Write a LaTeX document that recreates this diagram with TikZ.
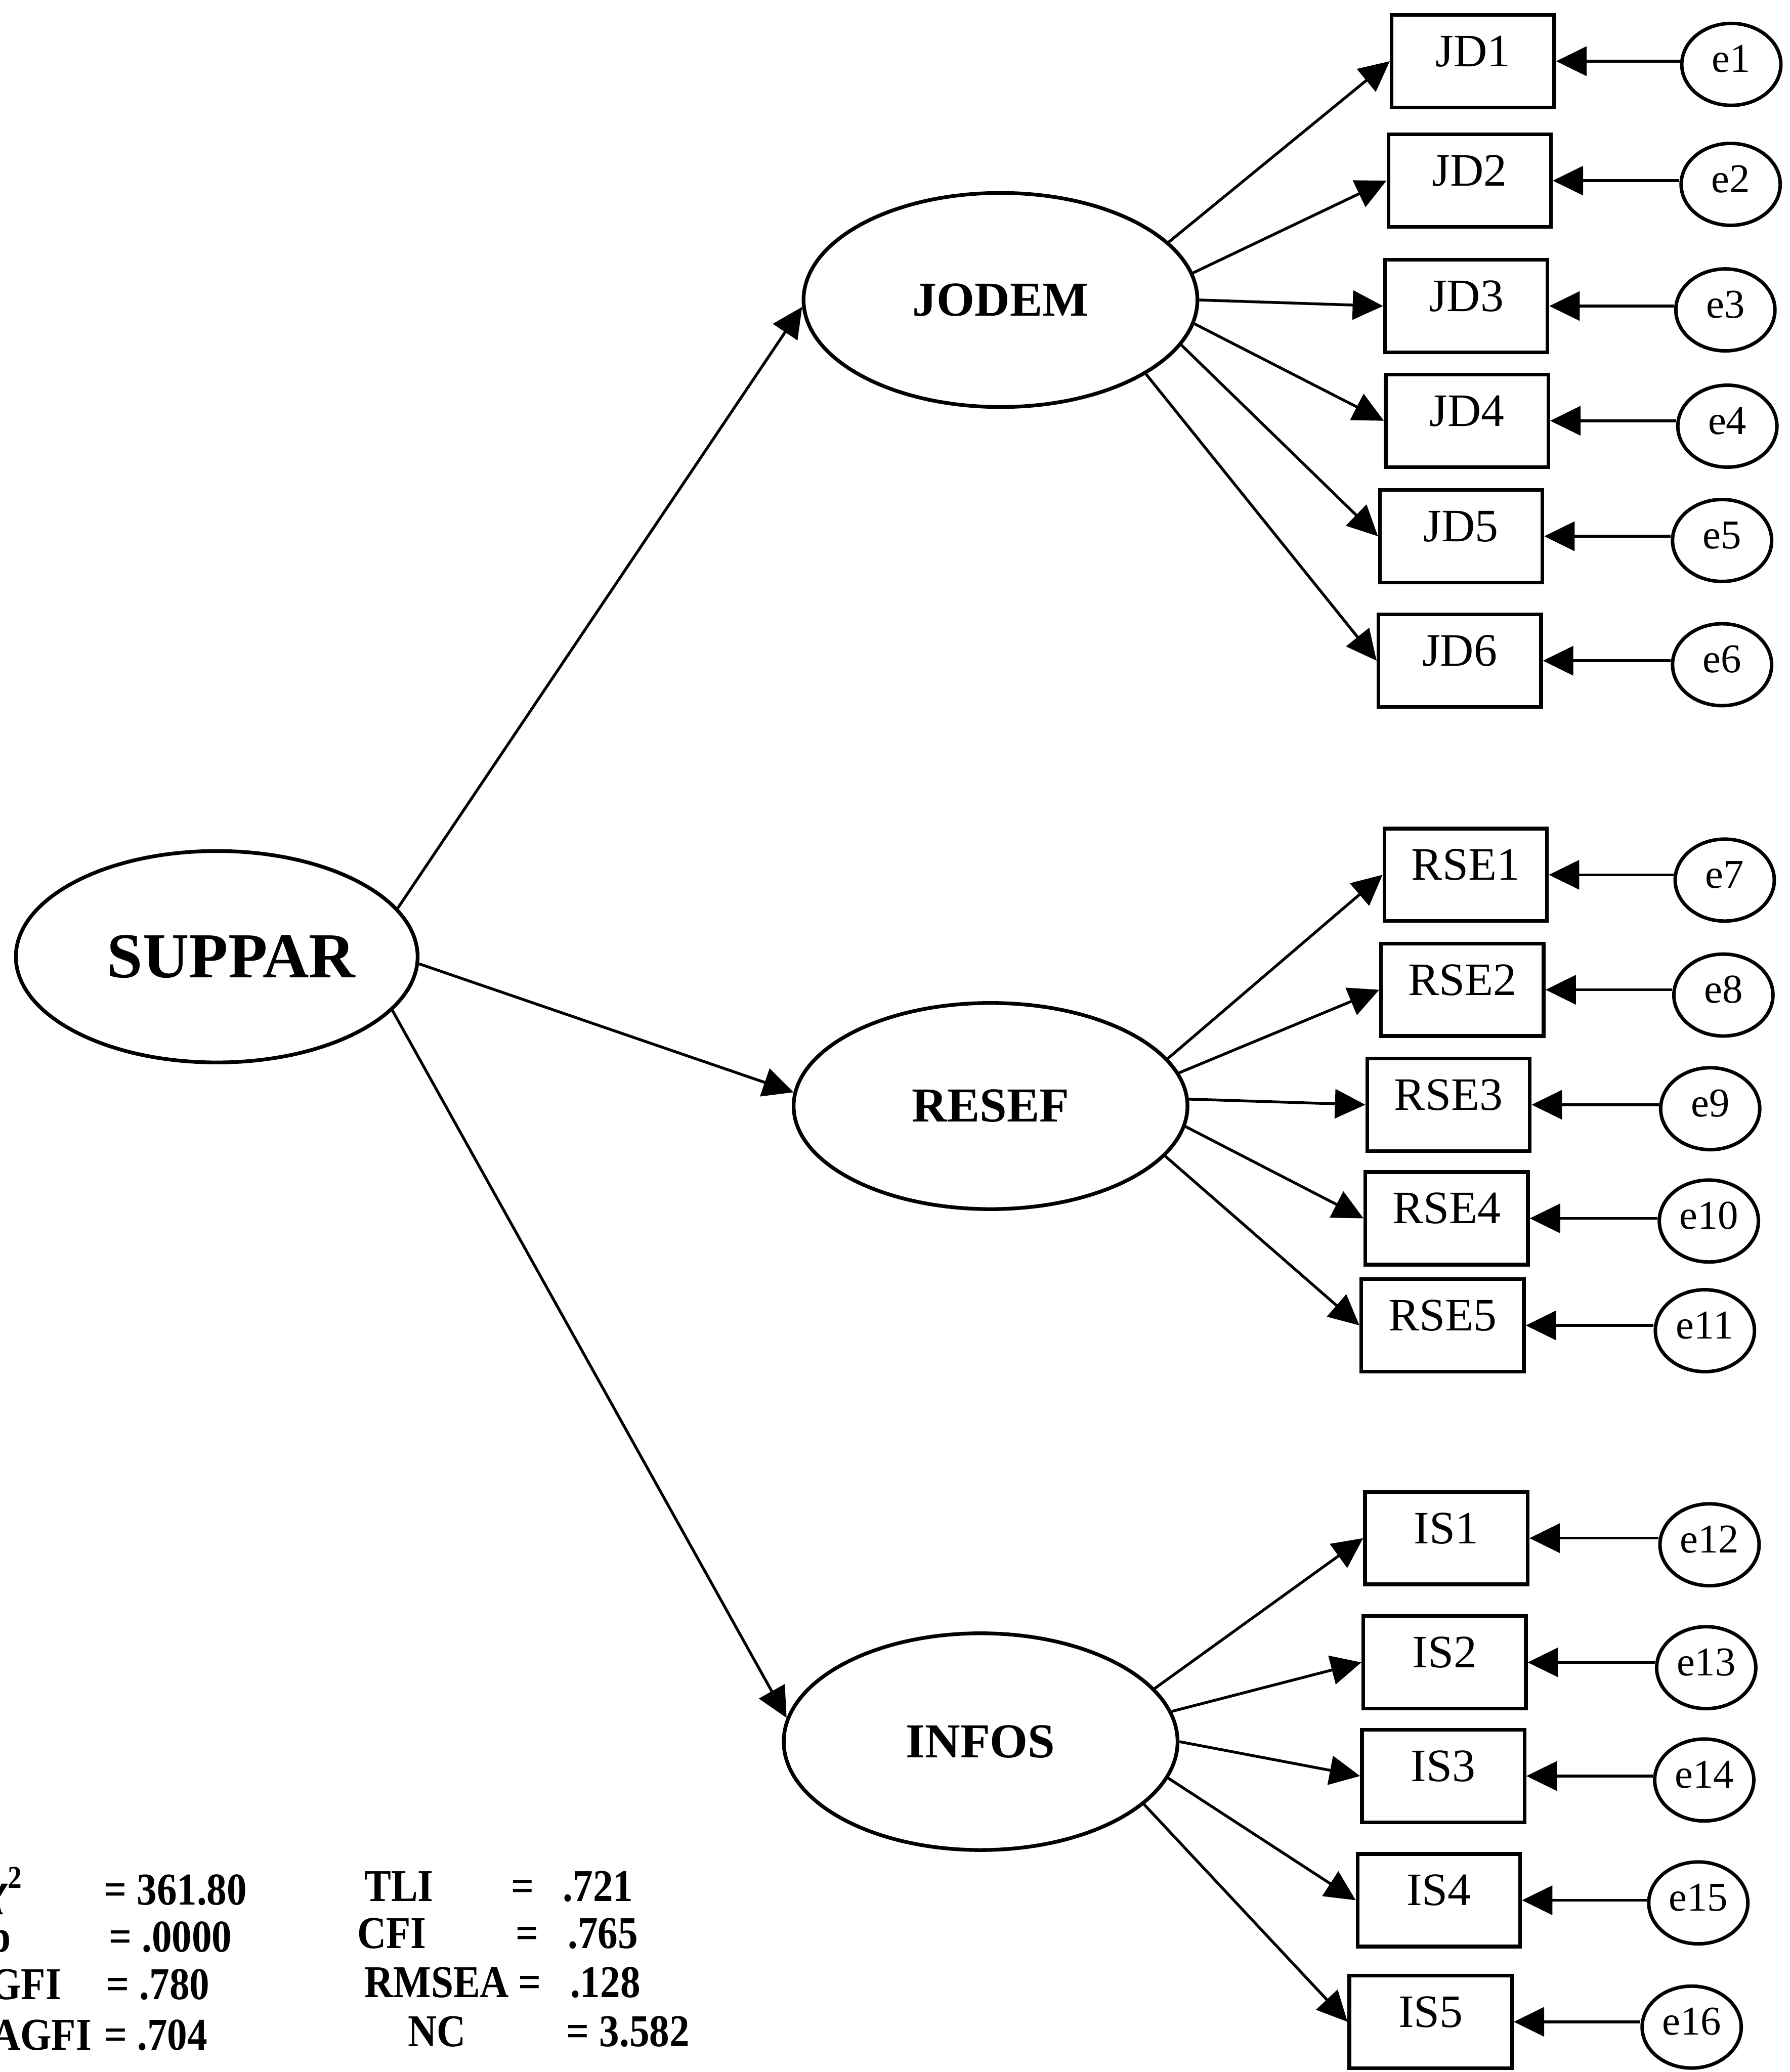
\documentclass[tikz,border=0pt]{standalone}
\usepackage{fontspec}
\setmainfont{Liberation Serif}
\newfontfamily\statfont{Liberation Serif}[FakeStretch=0.88]
\usetikzlibrary{shapes.geometric, arrows.meta, positioning}

\begin{document}
\begin{tikzpicture}[
    x=0.1mm, y=-0.1mm,
    latent/.style={draw, ellipse, line width=0.8pt, minimum width=29.8mm,
        minimum height=16.2mm, inner sep=0pt,
        font=\fontsize{10.5}{12}\selectfont\bfseries,
        text height=2.4mm, text depth=0pt},
    item/.style={draw, rectangle, line width=0.8pt, minimum width=12.3mm,
        minimum height=7mm, inner sep=0pt,
        font=\fontsize{10}{12}\selectfont,
        text height=2.3mm, text depth=1.5mm},
    err/.style={draw, ellipse, line width=0.75pt, minimum width=7.5mm,
        minimum height=6.2mm, inner sep=0pt,
        font=\fontsize{8.8}{10}\selectfont,
        text height=2mm, text depth=0.8mm},
    arrow/.style={-{Triangle[length=2.3mm, width=2.2mm]}, line width=0.6pt},
    stat/.style={font=\statfont\fontsize{9.8}{11}\selectfont\bfseries, inner sep=0pt}
]
    \useasboundingbox (0, 0) rectangle (1354, 1568);

    % Second order factor
    \node [latent, minimum width=30.4mm, minimum height=16mm] (SUPPAR) at (164, 724) {};
        \node [font=\fontsize{13.8}{16}\selectfont\bfseries, inner sep=0pt]
            (SUPPAR_text) at (175, 724) {SUPPAR};

    % First order factors
    \node [latent] (JODEM) at (757, 227) {JODEM};
    \node [latent, minimum height=15.6mm] (RESEF) at (749.5, 837) {RESEF};
    \node [latent, minimum height=16.4mm] (INFOS) at (742, 1318) {INFOS};

    % JODEM items
    \node [item] (JD1) at (1114.5, 46.3) {JD1};
    \node [item] (JD2) at (1112, 136.7) {JD2};
    \node [item] (JD3) at (1109.4, 231.6) {JD3};
    \node [item] (JD4) at (1110, 318.4) {JD4};
    \node [item] (JD5) at (1105.5, 405.8) {JD5};
    \node [item] (JD6) at (1104.5, 500) {JD6};

    % RESEF items
    \node [item] (RSE1) at (1109, 662) {RSE1};
    \node [item] (RSE2) at (1106.5, 749) {RSE2};
    \node [item] (RSE3) at (1096, 836) {RSE3};
    \node [item] (RSE4) at (1094.6, 922) {RSE4};
    \node [item] (RSE5) at (1091.5, 1003) {RSE5};

    % INFOS items
    \node [item] (IS1) at (1094.3, 1164) {IS1};
    \node [item] (IS2) at (1093, 1258) {IS2};
    \node [item] (IS3) at (1092, 1344) {IS3};
    \node [item] (IS4) at (1088.7, 1438) {IS4};
    \node [item] (IS5) at (1082.5, 1530) {IS5};

    % Error terms
    \node [err] (e1) at (1310, 48.7) {e1};
    \node [err] (e2) at (1309.5, 139.5) {e2};
    \node [err] (e3) at (1305.5, 234.5) {e3};
    \node [err] (e4) at (1307, 322.5) {e4};
    \node [err] (e5) at (1303, 409) {e5};
    \node [err] (e6) at (1303, 503) {e6};
    \node [err] (e7) at (1305, 666) {e7};
    \node [err] (e8) at (1304, 753) {e8};
    \node [err] (e9) at (1294, 839) {e9};
    \node [err] (e10) at (1293, 924) {e10};
    \node [err] (e11) at (1290, 1007) {e11};
    \node [err] (e12) at (1293.5, 1169) {e12};
    \node [err] (e13) at (1291, 1262) {e13};
    \node [err] (e14) at (1289.5, 1347) {e14};
    \node [err] (e15) at (1285, 1440) {e15};
    \node [err] (e16) at (1280, 1534) {e16};

    % SUPPAR to the first order factors
    \draw[arrow] (SUPPAR.15) -- (JODEM.182);
    \draw[arrow] (SUPPAR.-2) -- (RESEF.176);
    \draw[arrow] (SUPPAR.-17) -- (INFOS.173);

    % Loadings on the items
    \foreach \i/\a in {1/19, 2/8, 3/0, 4/-7, 5/-14, 6/-27} {
        \draw[arrow] (JODEM.\a) -- (JD\i.west);
    }
    \foreach \i/\a in {1/15, 2/10, 3/2, 4/-6, 5/-16} {
        \draw[arrow] (RESEF.\a) -- (RSE\i.west);
    }
    \foreach \i/\a in {1/17, 2/9, 3/0, 4/-11, 5/-21} {
        \draw[arrow] (INFOS.\a) -- (IS\i.west);
    }

    % Error terms to the items
    \foreach \e/\item in {1/JD1, 2/JD2, 3/JD3, 4/JD4, 5/JD5, 6/JD6,
            7/RSE1, 8/RSE2, 9/RSE3, 10/RSE4, 11/RSE5,
            12/IS1, 13/IS2, 14/IS3, 15/IS4, 16/IS5} {
        \draw[arrow] (e\e.west |- \item.east) -- (\item.east);
    }

    % Fit indices
    \node[stat, anchor=base east] (chi_lbl) at (19, 1441.5) {\textit{χ}\textsuperscript{2}};
    \node[stat, anchor=base west] (chi_val) at (78, 1441.5) {= 361.80};
    \node[stat, anchor=base east] (p_lbl) at (9, 1477) {p};
    \node[stat, anchor=base west] (p_val) at (81.8, 1477) {= .0000};
    \node[stat, anchor=base east] (gfi_lbl) at (47, 1513) {GFI};
    \node[stat, anchor=base west] (gfi_val) at (80, 1513) {= .780};
    \node[stat, anchor=base east] (agfi_lbl) at (70, 1551.4) {AGFI};
    \node[stat, anchor=base west] (agfi_val) at (78.3, 1551.4) {= .704};

    \node[stat, anchor=base west] (tli_lbl) at (275, 1438.8) {TLI};
    \node[stat, anchor=base west] (tli_val) at (386, 1438.8) {=\hspace{2.2mm}.721};
    \node[stat, anchor=base west] (cfi_lbl) at (269.7, 1474.3) {CFI};
    \node[stat, anchor=base west] (cfi_val) at (389.7, 1474.3) {=\hspace{2.2mm}.765};
    \node[stat, anchor=base west] (rmsea_lbl) at (275, 1511.4) {RMSEA};
    \node[stat, anchor=base west] (rmsea_val) at (391.5, 1511.4) {=\hspace{2.2mm}.128};
    \node[stat, anchor=base west] (nc_lbl) at (308, 1548.6) {NC};
    \node[stat, anchor=base west] (nc_val) at (428, 1548.6) {= 3.582};

\end{tikzpicture}
\end{document}
